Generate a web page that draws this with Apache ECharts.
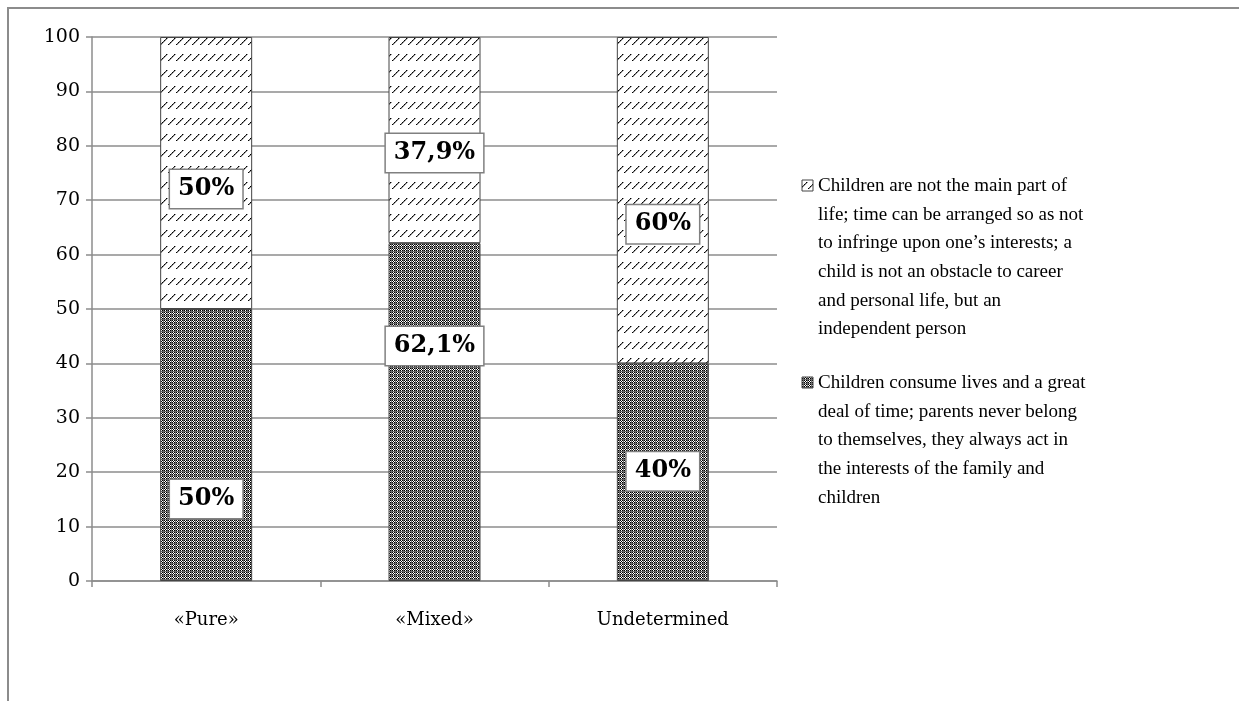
<!DOCTYPE html>
<html>
<head>
<meta charset="utf-8">
<script src="https://cdn.jsdelivr.net/npm/echarts@6/dist/echarts.min.js"></script>
<style>
  html, body { margin: 0; padding: 0; background: #fff; }
  #chart { width: 1239px; height: 701px; }
</style>
</head>
<body>
<div id="chart"></div>
<script>
// data
const categories = ['«Pure»', '«Mixed»', 'Undetermined'];
const consumeValues = [50, 62.1, 40];
const freeValues = [50, 37.9, 60];
const yTicks = [0, 10, 20, 30, 40, 50, 60, 70, 80, 90, 100];

const freeName = 'Children are not the main part of\nlife; time can be arranged so as not\nto infringe upon one’s interests; a\nchild is not an obstacle to career\nand personal life, but an\nindependent person';
const consumeName = 'Children consume lives and a great\ndeal of time; parents never belong\nto themselves, they always act in\nthe interests of the family and\nchildren';

// label nudges (px) so boxes sit where they were dragged in the original
const consumeLabelShift = [54, -66, -1];
const freeLabelShift = [16, 13, 24];

// fill patterns
function hatchTile() {
  const c = document.createElement('canvas');
  c.width = 8; c.height = 16;
  const ctx = c.getContext('2d');
  ctx.fillStyle = '#fff';
  ctx.fillRect(0, 0, 8, 16);
  const pts = [[0, 12], [1, 11], [2, 10], [3, 9], [4, 8], [5, 7], [6, 6]];
  pts.forEach(function (p, i) {
    ctx.fillStyle = i % 2 ? '#444' : '#000';
    ctx.fillRect(p[0], p[1], 1, 1);
    ctx.fillStyle = '#999';
    ctx.fillRect(p[0] + 1, p[1], 1, 1);
  });
  return c;
}
function checkTile() {
  const c = document.createElement('canvas');
  c.width = 4; c.height = 4;
  const ctx = c.getContext('2d');
  for (let x = 0; x < 4; x++) {
    for (let y = 0; y < 4; y++) {
      if (x === 3 || y === 3) ctx.fillStyle = '#6a6a6a';
      else ctx.fillStyle = (x + y) % 2 ? '#fff' : '#000';
      ctx.fillRect(x, y, 1, 1);
    }
  }
  return c;
}
const hatch = { image: hatchTile(), repeat: 'repeat' };
const check = { image: checkTile(), repeat: 'repeat' };

function fmt(v) {
  return String(v).replace('.', ',') + '%';
}

const labelBase = {
  show: true,
  position: 'inside',
  fontFamily: 'DejaVu Serif',
  fontWeight: 'bold',
  fontSize: 24,
  color: '#000',
  backgroundColor: '#fff',
  borderColor: '#808080',
  borderWidth: 1.5,
  padding: [8, 8, 6, 8]
};

function build(values, shifts) {
  return values.map(function (v, i) {
    return {
      value: v,
      label: Object.assign({}, labelBase, {
        offset: [0, shifts[i]],
        formatter: fmt(v)
      })
    };
  });
}

const chart = echarts.init(document.getElementById('chart'));
const option = {
  backgroundColor: '#fff',
  animation: false,
  grid: { left: 92, top: 37, right: 462, bottom: 120, containLabel: false },
  xAxis: {
    type: 'category',
    data: categories,
    axisLine: { lineStyle: { color: '#8c8c8c', width: 1.5 } },
    axisTick: { show: true, length: 6, alignWithLabel: false, lineStyle: { color: '#8c8c8c', width: 1.5 } },
    axisLabel: { fontFamily: 'DejaVu Serif', fontSize: 18, color: '#000', margin: 30 }
  },
  yAxis: {
    type: 'value',
    min: 0,
    max: 100,
    interval: 10,
    axisLine: { show: true, lineStyle: { color: '#8c8c8c', width: 1.5 } },
    axisTick: { show: true, length: 6, lineStyle: { color: '#8c8c8c', width: 1.5 } },
    splitLine: { lineStyle: { color: '#8c8c8c', width: 1.5 } },
    axisLabel: {
      fontFamily: 'DejaVu Serif', fontSize: 19, color: '#000', margin: 12,
      formatter: function (v) { return yTicks.indexOf(v) >= 0 ? String(v) : ''; }
    }
  },
  series: [
    {
      name: consumeName,
      type: 'bar',
      stack: 'all',
      barWidth: 92,
      itemStyle: { color: check, borderColor: '#444', borderWidth: 1 },
      data: build(consumeValues, consumeLabelShift)
    },
    {
      name: freeName,
      type: 'bar',
      stack: 'all',
      barWidth: 92,
      itemStyle: { color: hatch, borderColor: '#444', borderWidth: 1 },
      data: build(freeValues, freeLabelShift)
    }
  ],
  graphic: [
    {
      type: 'polyline',
      shape: { points: [[8, 701], [8, 8], [1239, 8]] },
      style: { stroke: '#8c8c8c', lineWidth: 2, fill: null },
      silent: true
    },
    {
      type: 'rect',
      shape: { x: 802, y: 180, width: 11, height: 11 },
      style: { fill: hatch, stroke: '#444', lineWidth: 1 }
    },
    {
      type: 'text',
      left: 818,
      top: 172,
      style: {
        text: freeName,
        font: '19px "Liberation Serif"',
        lineHeight: 28.6,
        fill: '#000'
      }
    },
    {
      type: 'rect',
      shape: { x: 802, y: 377, width: 11, height: 11 },
      style: { fill: check, stroke: '#444', lineWidth: 1 }
    },
    {
      type: 'text',
      left: 818,
      top: 369,
      style: {
        text: consumeName,
        font: '19px "Liberation Serif"',
        lineHeight: 28.6,
        fill: '#000'
      }
    }
  ]
};
chart.setOption(option);
</script>
</body>
</html>
